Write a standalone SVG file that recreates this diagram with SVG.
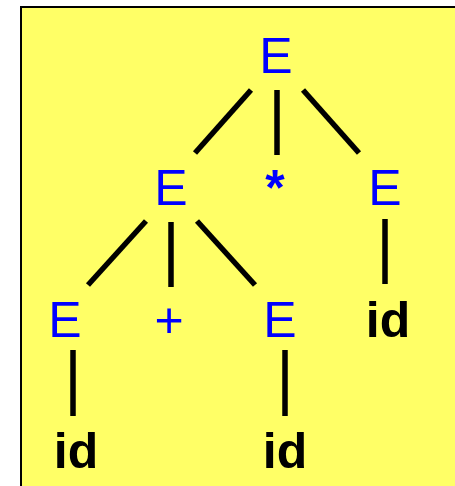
<svg xmlns="http://www.w3.org/2000/svg" width="455" height="486" viewBox="0 0 455 486">
  <style>
    .nt { font-family: "Liberation Sans", Arial, sans-serif; font-size: 50px; fill: #0000FF; text-anchor: middle; }
    .op { font-weight: bold; }
    .tk { font-family: "Liberation Sans", Arial, sans-serif; font-size: 50px; font-weight: bold; fill: #000000; text-anchor: middle; }
    .edge { stroke: #000000; stroke-width: 5.5; fill: none; }
  </style>
  <rect x="21" y="7" width="450" height="500" fill="#FFFF66" stroke="#000000" stroke-width="2"/>

  <g id="edges">
    <line class="edge" x1="251" y1="90" x2="195" y2="153"/>
    <line class="edge" x1="277" y1="90" x2="277" y2="155"/>
    <line class="edge" x1="303" y1="90" x2="359" y2="153"/>
    <line class="edge" x1="146" y1="221" x2="88" y2="285"/>
    <line class="edge" x1="171" y1="222" x2="171" y2="287"/>
    <line class="edge" x1="197" y1="221" x2="255" y2="285"/>
    <line class="edge" x1="385" y1="219" x2="385" y2="284"/>
    <line class="edge" x1="73" y1="350" x2="73" y2="416"/>
    <line class="edge" x1="285" y1="350" x2="285" y2="416"/>
  </g>

  <g id="root"><text class="nt" x="276" y="73">E</text></g>
  <g id="e-left"><text class="nt" x="171" y="205">E</text></g>
  <g id="star"><text class="nt op" x="275" y="205">*</text></g>
  <g id="e-right"><text class="nt" x="385" y="205">E</text></g>
  <g id="e-ll"><text class="nt" x="65" y="337">E</text></g>
  <g id="plus"><text class="nt" x="169" y="337" font-size="48">+</text></g>
  <g id="e-lr"><text class="nt" x="280" y="337">E</text></g>
  <g id="id-r"><text class="tk" x="388" y="337">id</text></g>
  <g id="id-ll"><text class="tk" x="76" y="468">id</text></g>
  <g id="id-lr"><text class="tk" x="285" y="468">id</text></g>
</svg>
